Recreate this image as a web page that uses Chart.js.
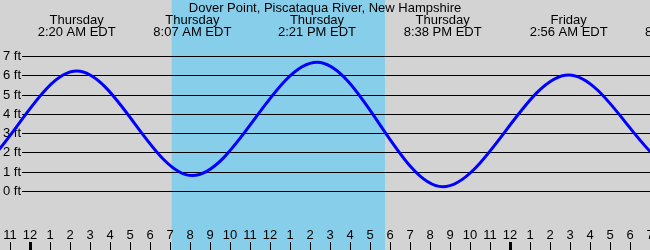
<!DOCTYPE html>
<html>
<head>
<meta charset="utf-8">
<script src="https://cdn.jsdelivr.net/npm/chart.js@4.4.1/dist/chart.umd.min.js"></script>
<style>
  html, body { margin: 0; padding: 0; background: #d3d3d3; }
  #wrap { width: 650px; height: 250px; position: relative; }
</style>
</head>
<body>
<div id="wrap"><canvas id="c"></canvas></div>
<script>
// ---- data ----
const chartTitle = 'Dover Point, Piscataqua River, New Hampshire';
const eventDays    = ['Wednesday', 'Wednesday', 'Thursday', 'Thursday', 'Thursday', 'Thursday', 'Friday', 'Friday', 'Friday'];
const eventTimes   = ['2:10 PM EDT', '8:30 PM EDT', '2:20 AM EDT', '8:07 AM EDT', '2:21 PM EDT', '8:38 PM EDT', '2:56 AM EDT', '8:42 AM EDT', '3:05 PM EDT'];
const eventHeights = [6.5, 0.7, 6.22, 0.8, 6.67, 0.22, 6.02, 1.0, 6.4];   // ft
const yTickValues  = [0, 1, 2, 3, 4, 5, 6, 7];                  // ft
const sunriseTime  = '7:05 AM';
const sunsetTime   = '5:45 PM';

// ---- helpers ----
const dayOffset = { Wednesday: -24, Thursday: 0, Friday: 24 };
function parseClock(str) {
  const m = str.match(/(\d+):(\d+)\s*(AM|PM)/);
  let h = parseInt(m[1], 10) % 12;
  if (m[3] === 'PM') h += 12;
  return h + parseInt(m[2], 10) / 60;
}
const eventHours = eventTimes.map((t, i) => dayOffset[eventDays[i]] + parseClock(t));
const tidePoints = eventHours.map((h, i) => ({ x: h, y: eventHeights[i] }));
const sunriseHour = parseClock(sunriseTime);
const sunsetHour = parseClock(sunsetTime);

const FONT = '13px "Liberation Sans", Arial, sans-serif';

const decorPlugin = {
  id: 'tideDecor',
  beforeDraw(chart) {
    const { ctx, scales: { x, y } } = chart;
    const W = chart.width, H = chart.height;
    ctx.save();
    ctx.fillStyle = '#d3d3d3';
    ctx.fillRect(0, 0, W, H);
    // daylight band
    const xs = x.getPixelForValue(sunriseHour), xe = x.getPixelForValue(sunsetHour);
    ctx.fillStyle = '#87ceeb';
    ctx.fillRect(xs, 0, xe - xs, H);

    ctx.font = FONT;
    ctx.fillStyle = '#000';
    ctx.strokeStyle = '#000';
    ctx.lineWidth = 1;

    // horizontal grid + y labels
    ctx.textAlign = 'left';
    ctx.textBaseline = 'middle';
    yTickValues.forEach(v => {
      const py = Math.round(y.getPixelForValue(v)) + 0.5;
      ctx.beginPath();
      ctx.moveTo(22, py);
      ctx.lineTo(W, py);
      ctx.stroke();
      ctx.fillText(v + ' ft', 3, py);
    });

    // title
    ctx.textAlign = 'center';
    ctx.fillText(chartTitle, 325, 8);

    // high / low event labels
    eventHours.forEach((h, i) => {
      const px = x.getPixelForValue(h);
      ctx.fillText(eventDays[i], px, 20);
      ctx.fillText(eventTimes[i], px, 32);
    });

    // hour ticks along bottom
    for (let h = Math.ceil(x.min); h <= Math.floor(x.max); h++) {
      const px = Math.round(x.getPixelForValue(h));
      const lab = ((h % 12) + 12) % 12 || 12;
      ctx.fillText(String(lab), px, 235);
      const midnight = ((h % 24) + 24) % 24 === 0;
      if (midnight) {
        ctx.fillRect(px - 1, 242, 3, H - 242);
      } else {
        ctx.fillRect(px, 242, 1, H - 242);
      }
    }
    ctx.restore();
  }
};

new Chart(document.getElementById('c'), {
  type: 'line',
  data: {
    datasets: [{
      data: tidePoints,
      borderColor: '#0000ff',
      borderWidth: 3,
      pointRadius: 0,
      fill: false,
      cubicInterpolationMode: 'monotone'
    }]
  },
  options: {
    responsive: true,
    maintainAspectRatio: false,
    animation: false,
    layout: { padding: 0 },
    plugins: { legend: { display: false }, title: { display: false }, tooltip: { enabled: false } },
    scales: {
      x: { type: 'linear', display: false, min: -1.5, max: 31 },
      y: { type: 'linear', display: false, min: -3.059, max: 9.904 }
    }
  },
  plugins: [decorPlugin]
});
</script>
</body>
</html>
